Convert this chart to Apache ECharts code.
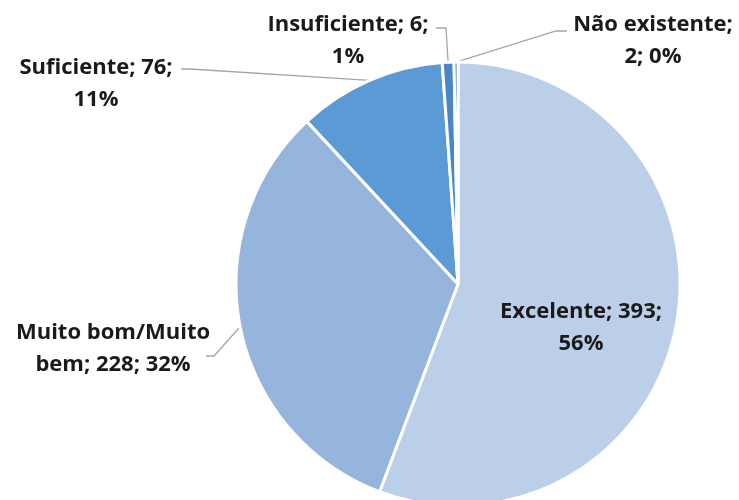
<!DOCTYPE html>
<html>
<head>
<meta charset="utf-8">
<script src="https://cdn.jsdelivr.net/npm/echarts@6/dist/echarts.min.js"></script>
<style>
  html, body { margin: 0; padding: 0; background: #fff; }
  #chart { width: 739px; height: 500px; }
</style>
</head>
<body>
<div id="chart"></div>
<script>
// dados do gráfico
let categories = ['Excelente', 'Muito bom/Muito bem', 'Suficiente', 'Insuficiente', 'Não existente'];
let values = [393, 228, 76, 6, 2];
let colors = ['#bccfe9', '#95b5dd', '#5b9ad4', '#4a86c5', '#3a73b2'];

// texto de cada rótulo (quebra de linha como no original)
let labelTemplates = [
    '{b}; {c};\n{d}%',
    'Muito bom/Muito\nbem; {c}; {d}%',
    '{b}; {c};\n{d}%',
    '{b}; {c};\n{d}%',
    'Não existente;\n{c}; {d}%'
];

// posição do centro do rótulo e pontos da linha guia
let labelPos = [
    { x: 581, y: 328, line: null },
    { x: 113, y: 349, line: [[214, 356], [206, 356]] },
    { x: 96, y: 84, line: [[190, 69], [181, 69]] },
    { x: 348, y: 41, line: [[446, 28], [436, 28]] },
    { x: 653, y: 41, line: [[556, 31], [567, 31]] }
];

let chart = echarts.init(document.getElementById('chart'), null, { renderer: 'canvas' });

let seriesData = categories.map((name, i) => ({
    name: name,
    value: values[i],
    itemStyle: { color: colors[i] },
    label: {
        formatter: labelTemplates[i],
        position: i === 0 ? 'inside' : 'outside'
    },
    labelLine: { show: i !== 0 }
}));

let option = {
    animation: false,
    series: [{
        type: 'pie',
        center: [458, 284],
        radius: 222,
        startAngle: 90,
        clockwise: true,
        percentPrecision: 0,
        avoidLabelOverlap: false,
        itemStyle: {
            borderColor: '#ffffff',
            borderWidth: 3
        },
        label: {
            color: '#1a1a1a',
            fontFamily: '"Open Sans", sans-serif',
            fontWeight: 'bold',
            fontSize: 22,
            lineHeight: 32,
            align: 'center'
        },
        labelLine: {
            show: true,
            lineStyle: { color: '#a6a6a6', width: 1.3 }
        },
        labelLayout: function (params) {
            let p = labelPos[params.dataIndex];
            let res = {
                x: p.x,
                y: p.y,
                align: 'center',
                verticalAlign: 'middle'
            };
            if (p.line && params.labelLinePoints) {
                res.labelLinePoints = [params.labelLinePoints[0], p.line[0], p.line[1]];
            }
            return res;
        },
        data: seriesData
    }]
};

chart.setOption(option);
</script>
</body>
</html>
